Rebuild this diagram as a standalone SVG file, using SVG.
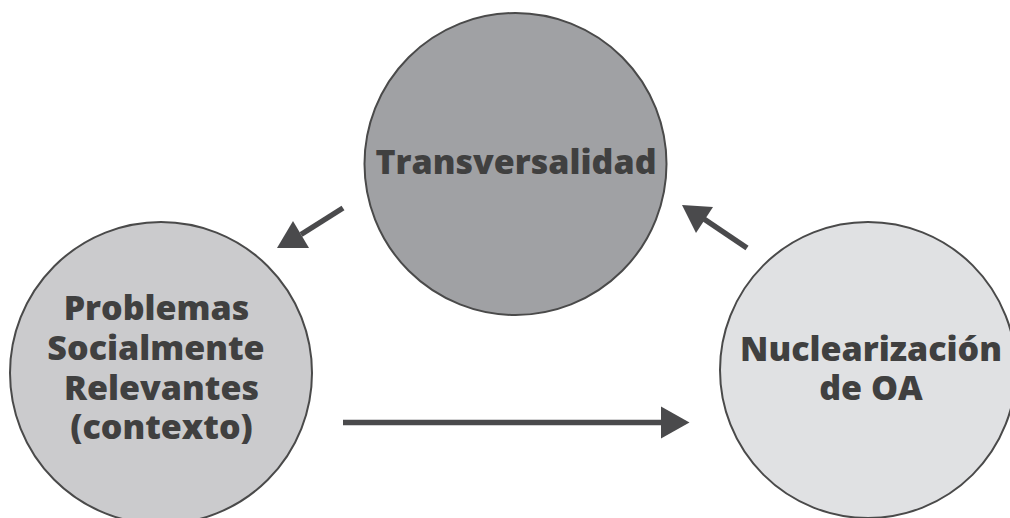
<svg xmlns="http://www.w3.org/2000/svg" width="1010" height="518" viewBox="0 0 1010 518">
<style>
.node circle{stroke:#4a4a4a;stroke-width:2}
.lbl{font-family:"Open Sans","Noto Sans","DejaVu Sans",sans-serif;font-weight:800;font-size:34px;fill:#404040;text-anchor:middle}
.conn line{stroke:#4a4a4c;stroke-width:5.5}
.conn polygon{fill:#4a4a4c}
</style>
<rect width="1010" height="518" fill="#ffffff"/>
<g id="node-transversalidad" class="node">
<circle cx="515.5" cy="164" r="151" fill="#a0a1a4"/>
<text class="lbl" x="516" y="174">Transversalidad</text>
</g>
<g id="node-problemas" class="node">
<circle cx="161" cy="373" r="151" fill="#cbcbcd"/>
<text class="lbl" x="156.5" y="320">Problemas</text>
<text class="lbl" x="156" y="360">Socialmente</text>
<text class="lbl" x="161.5" y="400">Relevantes</text>
<text class="lbl" x="161.5" y="439">(contexto)</text>
</g>
<g id="node-nuclearizacion" class="node">
<circle cx="868" cy="370" r="148" fill="#e0e1e3"/>
<text class="lbl" x="871" y="361">Nuclearización</text>
<text class="lbl" x="871" y="400">de OA</text>
</g>
<g id="connectors" class="conn">
<line x1="343" y1="208" x2="301" y2="234.5"/>
<polygon points="293,221 309,248 277,248"/>
<line x1="747" y1="248" x2="704" y2="219"/>
<polygon points="682,205 713,207 696,233"/>
<line x1="343" y1="422.5" x2="662" y2="422.5"/>
<polygon points="661,406.5 689.5,422.5 661,438.5"/>
</g>
</svg>
